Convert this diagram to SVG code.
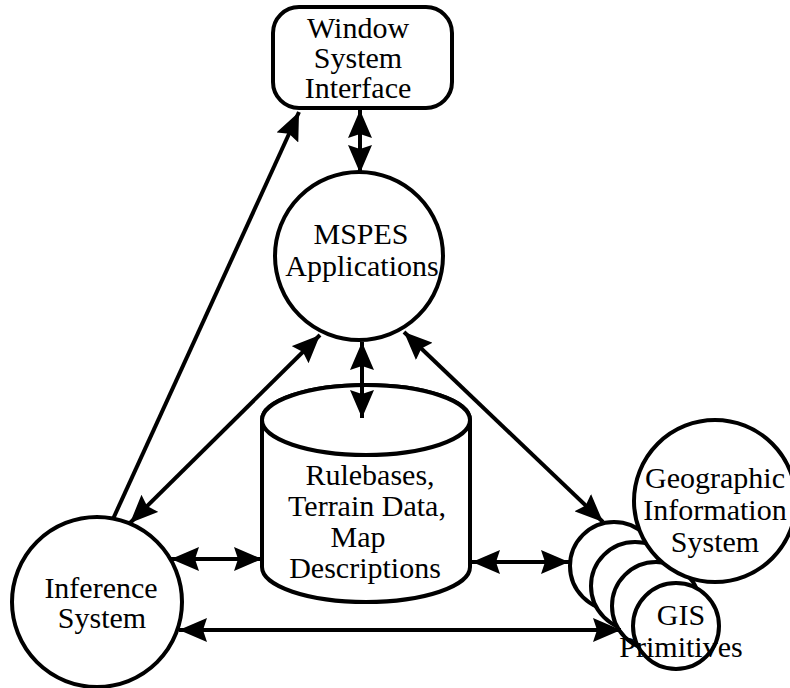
<svg xmlns="http://www.w3.org/2000/svg" width="790" height="688" viewBox="0 0 790 688">
  <style>
    .shape { fill: #ffffff; stroke: #000000; stroke-width: 4; }
    .lbl { font-family: "Liberation Serif", "Times New Roman", serif; font-size: 30px; fill: #000000; text-anchor: middle; }
    .conn line { stroke: #000000; stroke-width: 4; fill: none; }
  </style>
  <defs>
    <marker id="ah" viewBox="0 0 28 24" refX="28" refY="12" markerWidth="28" markerHeight="24" markerUnits="userSpaceOnUse" orient="auto-start-reverse">
      <path d="M0,0 L28,12 L0,24 L4,12 Z" fill="#000000"/>
    </marker>
  </defs>
  <rect width="790" height="688" fill="#ffffff"/>

  <g id="window-system-interface">
    <rect class="shape" x="273" y="7" width="179" height="101" rx="26" ry="26"/>
    <text class="lbl" x="358" y="38">Window</text>
    <text class="lbl" x="358" y="68">System</text>
    <text class="lbl" x="358" y="98">Interface</text>
  </g>

  <g id="mspes-applications">
    <circle class="shape" cx="359" cy="256" r="84"/>
    <text class="lbl" x="361" y="244">MSPES</text>
    <text class="lbl" x="362" y="276">Applications</text>
  </g>

  <g id="rulebases">
    <path class="shape" d="M262,420 L262,567 A104,35 0 0 0 470,567 L470,420 A104,35 0 0 0 262,420 Z"/>
    <ellipse class="shape" cx="366" cy="420" rx="104" ry="35"/>
    <text class="lbl" x="370" y="485">Rulebases,</text>
    <text class="lbl" x="367" y="516">Terrain Data,</text>
    <text class="lbl" x="358" y="547">Map</text>
    <text class="lbl" x="365" y="578">Descriptions</text>
  </g>

  <g id="inference-system">
    <circle class="shape" cx="97" cy="602" r="85"/>
    <text class="lbl" x="101" y="598">Inference</text>
    <text class="lbl" x="102" y="628">System</text>
  </g>

  <g id="gis-primitives">
    <circle class="shape" cx="614" cy="566" r="44"/>
    <circle class="shape" cx="635" cy="586" r="44"/>
    <circle class="shape" cx="656" cy="606" r="44"/>
    <circle class="shape" cx="676" cy="626" r="43"/>
    <text class="lbl" x="681" y="625">GIS</text>
    <text class="lbl" x="681" y="657">Primitives</text>
  </g>

  <g id="geographic-information-system">
    <circle class="shape" cx="715" cy="501" r="81"/>
    <text class="lbl" x="715" y="488">Geographic</text>
    <text class="lbl" x="715" y="520">Information</text>
    <text class="lbl" x="715" y="552">System</text>
  </g>

  <g id="connectors" class="conn">
    <line x1="113" y1="519" x2="299" y2="112" marker-end="url(#ah)"/>
    <line x1="360" y1="110" x2="360" y2="173" marker-start="url(#ah)" marker-end="url(#ah)"/>
    <line x1="320" y1="335" x2="130" y2="523" marker-start="url(#ah)" marker-end="url(#ah)"/>
    <line x1="362" y1="342" x2="362" y2="418" marker-start="url(#ah)" marker-end="url(#ah)"/>
    <line x1="404" y1="332" x2="603" y2="522" marker-start="url(#ah)" marker-end="url(#ah)"/>
    <line x1="171" y1="559" x2="262" y2="559" marker-start="url(#ah)" marker-end="url(#ah)"/>
    <line x1="472" y1="562" x2="569" y2="562" marker-start="url(#ah)" marker-end="url(#ah)"/>
    <line x1="179" y1="630" x2="621" y2="630" marker-start="url(#ah)" marker-end="url(#ah)"/>
  </g>
</svg>
